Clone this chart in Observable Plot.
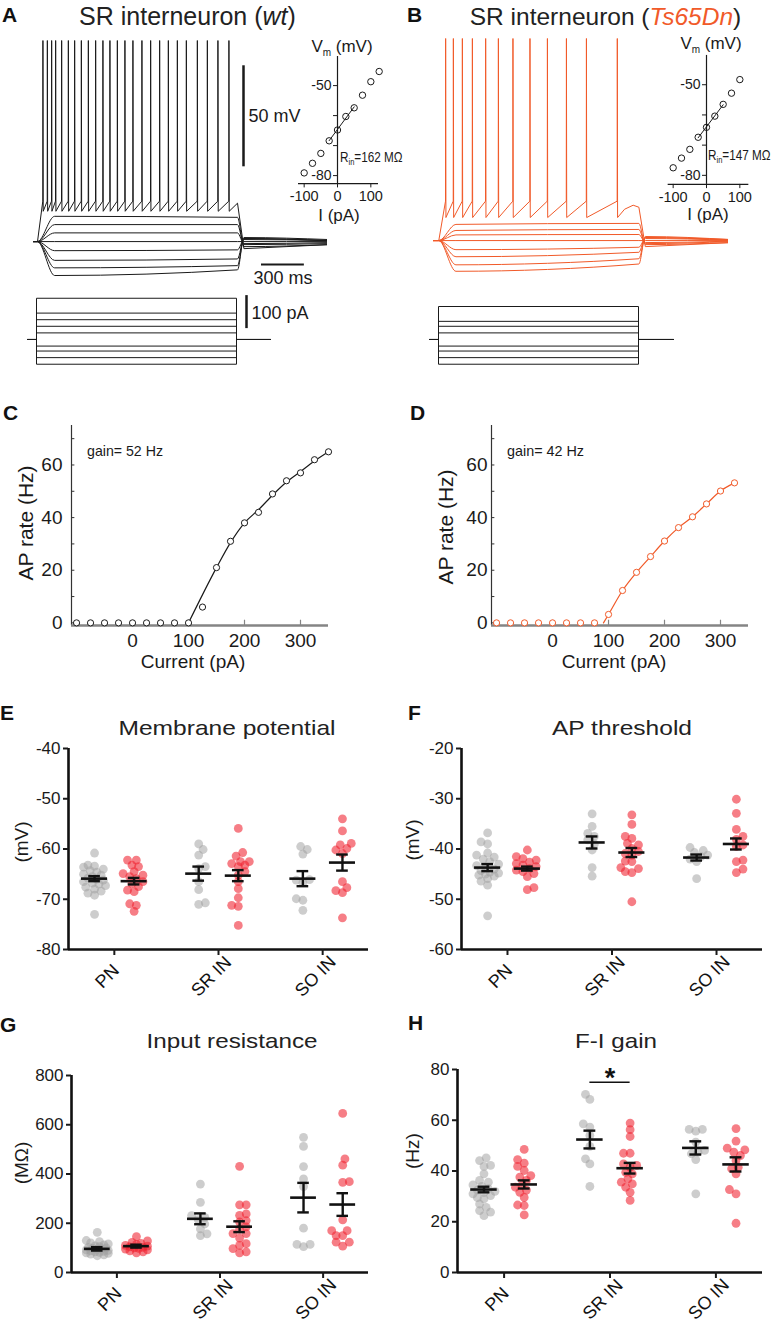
<!DOCTYPE html>
<html><head><meta charset="utf-8">
<script src="https://cdn.jsdelivr.net/npm/d3@7"></script>
<script src="https://cdn.jsdelivr.net/npm/@observablehq/plot@0.6"></script>
<style>
html,body{margin:0;padding:0;background:#fff;}
#fig{position:relative;width:775px;height:1331px;overflow:hidden;background:#fff;}
</style></head><body><div id="fig"></div>
<script>
// ---------------- DATA ----------------
// Panels A/B: voltage traces (mV) – key values per non-spiking trace
const restV = -65;
const traceKeyTimes = [-40, 0, 120, 1400, 1445, 2040]; // ms
const aEarly = [-52.5, -56.6, -60.7, -65, -69.5, -74.3, -78, -81.8];
const aEnd   = [-53, -56.6, -60.7, -65, -69.1, -73.6, -76.9, -79];
const aPost1 = [-67.5, -66.5, -66, -65, -64, -63.5, -63.5, -63];
const aPost2 = [-66.5, -66, -65.5, -65, -64.5, -64.5, -64.5, -64];
const aSpikeTimes = [37, 68, 98, 126, 168, 215, 259, 306, 355, 406, 457, 506, 558, 611, 667, 730, 791, 854, 915, 978, 1041, 1118, 1188, 1262, 1339];
const aSpikeLevels = [-45, 34.5, -50]; // threshold, peak, AHP
const aSpikeTail = [[1400, -46]];
const aSpikePost = [-68.5, -66.5];

const bEarly = [-57, -60, -62.2, -65, -69.5, -73, -77, -80.2];
const bEnd   = [-56.5, -59.5, -62, -65, -68.3, -70.8, -74, -76.6];
const bPost1 = [-67, -66.5, -66, -65, -64, -63.5, -63.5, -63];
const bPost2 = [-66, -65.5, -65.3, -65, -64.8, -64.8, -64.5, -64.5];
const bSpikeTimes = [47, 101, 164, 234, 327, 416, 518, 637, 759, 892, 1032, 1248];
const bSpikeLevels = [-45.5, 35, -53.6];
const bSpikeTail = [[1300, -49.5], [1360, -47.5], [1400, -48.5]];
const bSpikePost = [-68, -66];

// current steps (pA)
const aCurrents = [125, 80, 60, 40, 20, -20, -35, -55, -75];
const bCurrents = [100, 55, 40, 20, -20, -35, -55, -75];
const stepTimes = [0, 1400];

// I-V insets
const ivCurrentsA = [-100, -75, -50, -25, 0, 25, 50, 75, 100, 125];
const ivVoltA = [-79.1, -75.9, -72.6, -68.4, -64.8, -60.3, -57.4, -53.2, -48.7, -45.3];
const ivCurrentsB = [-100, -75, -50, -25, 0, 25, 50, 75, 100];
const ivVoltB = [-77.5, -74.3, -71.4, -67.4, -64.1, -60.4, -56.5, -52.8, -48.3];
const ivFitRange = [-25, 50];
const ivYTicks = [-50, -60, -70, -80];
const ivYLabels = ["-50", "-80"];
const ivXTicks = [-100, 0, 100];

// Panels C/D: F-I curves
const cCurrent = [-100, -75, -50, -25, 0, 25, 50, 75, 100, 125, 150, 175, 200, 225, 250, 275, 300, 325, 350];
const cRate = [0, 0, 0, 0, 0, 0, 0, 0, 0, 6, 21, 31, 38, 42, 49, 54, 57, 62, 65];
const cFitI = [100, 150, 175, 200, 225, 250, 275, 300, 325, 350];
const cFitR = [0, 21, 30.5, 38, 43, 48.5, 53.5, 57.5, 61.5, 65];
const dCurrent = [-100, -75, -50, -25, 0, 25, 50, 75, 100, 125, 150, 175, 200, 225, 250, 275, 300, 325];
const dRate = [0, 0, 0, 0, 0, 0, 0, 0, 3.2, 12.3, 19.2, 25.2, 31.1, 36.2, 40.3, 45.2, 50.1, 53.2];
const dFitI = [91, 100, 125, 150, 175, 200, 225, 250, 275, 300, 325];
const dFitR = [0, 3.2, 12.3, 19.2, 25.2, 31.1, 36.2, 40.3, 45.2, 50.1, 53.2];
const fiXTicks = [0, 100, 200, 300];
const fiYTicks = [0, 20, 40, 60];
const fiYMinor = [0, 10, 20, 30, 40, 50, 60, 70];

// Panels E-H: categories
const cats = ["PN", "SR IN", "SO IN"];
// E: membrane potential (mV)
const vmPNwt = [-60.8, -63.2, -63.4, -63.6, -64.0, -64.3, -64.6, -65.0, -65.2, -65.5, -65.8, -66.0, -66.2, -66.5, -66.8, -67.0, -67.3, -67.6, -68.0, -68.4, -68.8, -69.2, -73.0];
const vmPNts = [-62.2, -62.2, -63.2, -63.5, -64.5, -64.9, -65.2, -65.5, -65.9, -66.5, -66.9, -67.5, -68.2, -68.5, -70.9, -71.2, -72.4];
const vmSRwt = [-59.0, -60.1, -61.2, -63.5, -63.9, -66.5, -68.1, -70.7, -71.0];
const vmSRts = [-55.9, -60.7, -61.4, -62.5, -62.5, -62.9, -63.2, -63.5, -64.5, -65.2, -66.5, -67.9, -69.7, -71.2, -71.4, -75.2];
const vmSOwt = [-59.5, -60.1, -61.0, -66.1, -66.2, -66.7, -69.9, -70.2, -72.2];
const vmSOts = [-54.0, -56.4, -58.9, -59.2, -59.9, -60.2, -60.9, -66.5, -67.7, -68.3, -68.7, -73.7];
const vmMean = [-65.9, -66.4, -64.9, -65.3, -65.9, -62.7];
const vmSem = [0.5, 0.65, 1.4, 1.1, 1.5, 1.6];
// F: AP threshold (mV)
const thPNwt = [-36.8, -38.6, -39.0, -40.8, -41.2, -41.6, -42.0, -42.5, -43.0, -43.3, -43.6, -44.0, -44.3, -44.6, -44.8, -45.0, -45.2, -45.4, -45.9, -46.4, -47.2, -53.3];
const thPNts = [-40.2, -41.5, -41.9, -42.2, -42.6, -42.9, -43.2, -43.5, -43.9, -44.2, -44.5, -44.9, -45.5, -47.7, -48.1];
const thSRwt = [-33.0, -35.5, -36.9, -37.5, -38.2, -39.0, -40.2, -43.7, -45.4];
const thSRts = [-33.2, -35.1, -37.5, -37.9, -38.9, -39.2, -39.9, -40.5, -40.9, -41.2, -42.4, -42.5, -43.7, -43.9, -44.5, -44.7, -50.5];
const thSOwt = [-39.7, -40.3, -40.7, -41.2, -41.5, -42.0, -42.5, -45.9];
const thSOts = [-30.1, -32.9, -36.1, -37.5, -38.1, -39.2, -39.5, -42.2, -42.5, -44.0, -44.7];
const thMean = [-43.7, -43.9, -38.7, -40.7, -41.7, -39.0];
const thSem = [0.7, 0.4, 1.2, 0.9, 0.6, 1.1];
// G: input resistance (MOhm)
const rinPNwt = [163, 130, 125, 120, 116, 112, 108, 105, 102, 100, 98, 96, 94, 92, 90, 88, 86, 84, 82, 80, 78, 75, 72, 68];
const rinPNts = [146, 128, 122, 118, 114, 110, 107, 104, 102, 100, 98, 95, 92, 88, 84, 80];
const rinSRwt = [359, 285, 231, 224, 215, 197, 177, 157, 150];
const rinSRts = [431, 275, 275, 238, 232, 211, 205, 185, 175, 158, 158, 140, 117, 110, 97, 84, 80];
const rinSOwt = [549, 512, 430, 380, 349, 180, 114, 105, 114];
const rinSOts = [646, 461, 436, 369, 366, 214, 170, 170, 150, 150, 123, 123, 107];
const rinMean = [96, 107, 218, 186, 304, 276];
const rinSem = [7, 6, 22, 22, 60, 46];
// H: F-I gain (Hz)
const gPNwt = [45.2, 44.1, 42.2, 41.8, 38.9, 36.3, 35.6, 34.5, 33.9, 33.0, 32.5, 32.0, 31.5, 31.0, 30.3, 29.5, 29.0, 27.0, 25.7, 24.4, 23.8, 22.4];
const gPNts = [48.5, 44.5, 43.1, 41.8, 40.2, 38.2, 37.6, 36.3, 34.3, 33.6, 32.5, 31.6, 29.6, 26.6, 26.4, 22.7];
const gSRwt = [70.2, 68.2, 58.6, 57.3, 54.0, 49.7, 44.8, 42.8, 33.9];
const gSRts = [58.9, 56.3, 53.6, 47.0, 47.0, 42.8, 42.2, 41.5, 39.5, 38.9, 36.9, 35.6, 34.9, 33.6, 31.6, 28.4];
const gSOwt = [56.4, 55.7, 56.4, 51.4, 46.8, 47.4, 48.1, 44.5, 31.0];
const gSOts = [56.7, 51.8, 49.0, 48.3, 47.4, 46.1, 44.1, 41.5, 40.9, 38.9, 32.7, 31.0, 19.4];
const gMean = [32.7, 34.7, 52.4, 41.1, 49.1, 42.6];
const gSem = [1.1, 1.6, 3.5, 2.1, 2.6, 2.8];
const gSig = [{cat: 1, y: 75}];

// ---------------- STYLE ----------------
const SANS = '"Liberation Sans", Arial, Helvetica, sans-serif';
const NARROW = '"Liberation Sans Narrow", "Arial Narrow", "Liberation Sans", Arial, sans-serif';
const INK = "#1a1a1a";
const ORANGE = "#f15a29";
const GRAY = "#a0a0a0";
const RED = "#f0202e";
const GENO = 0.19;
const baseStyle = {background: "transparent", overflow: "visible", fontFamily: SANS, fontSize: "17px", color: INK};
const hyphen = d => String(d);

const fig = document.getElementById("fig");
function place(node, left, top) {
  node.style.position = "absolute";
  node.style.left = left + "px";
  node.style.top = top + "px";
  fig.appendChild(node);
}

// ---------------- TRACES ----------------
function subTraces(early, end, p1, p2) {
  const rows = [];
  early.forEach((e, k) => {
    const vals = [restV, restV, e, end[k], p1[k], p2[k]];
    traceKeyTimes.forEach((t, j) => rows.push({id: k, t, v: vals[j]}));
  });
  return rows;
}
function spikeTrace(spikes, lv, tail, post) {
  const [thr, peak, ahp] = lv;
  const rows = [{t: -40, v: restV}, {t: 0, v: restV}];
  spikes.forEach(s => rows.push({t: s, v: thr}, {t: s + 1, v: peak}, {t: s + 3, v: ahp}));
  tail.forEach(([t, v]) => rows.push({t, v}));
  rows.push({t: 1445, v: post[0]}, {t: 2040, v: post[1]});
  return rows;
}
function stepRows(currents, tStart, tEnd) {
  const rows = [];
  currents.forEach((I, k) => {
    [[tStart, 0], [stepTimes[0], 0], [stepTimes[0], I], [stepTimes[1], I], [stepTimes[1], 0], [tEnd, 0]]
      .forEach(([t, i]) => rows.push({id: k, t, i}));
  });
  return rows;
}

// Panel A voltage traces
place(Plot.plot({
  width: 294, height: 254, margin: 0,
  x: {domain: [-28, 2030], axis: null}, y: {domain: [-90.2, 35.5], axis: null},
  style: baseStyle,
  marks: [
    Plot.line(subTraces(aEarly, aEnd, aPost1, aPost2), {x: "t", y: "v", z: "id", curve: "monotone-x", stroke: INK, strokeWidth: 1, clip: true}),
    Plot.line(spikeTrace(aSpikeTimes, aSpikeLevels, aSpikeTail, aSpikePost), {x: "t", y: "v", stroke: INK, strokeWidth: 1, clip: true}),
    Plot.ruleX([1442], {y1: 22, y2: 22 - 50, stroke: INK, strokeWidth: 2.5}),
    Plot.text(["50 mV"], {x: 1477, y: -3, textAnchor: "start", fontSize: 18, fill: INK}),
    Plot.ruleY([-76.4], {x1: 1568, x2: 1568 + 300, stroke: INK, strokeWidth: 2}),
    Plot.text(["300 ms"], {x: 1718, y: -83, fontSize: 18, fill: INK})
  ]
}), 33, 38);

// Panel B voltage traces
place(Plot.plot({
  width: 295, height: 254, margin: 0,
  x: {domain: [-37, 2027], axis: null}, y: {domain: [-90.7, 35], axis: null},
  style: baseStyle,
  marks: [
    Plot.line(subTraces(bEarly, bEnd, bPost1, bPost2), {x: "t", y: "v", z: "id", curve: "monotone-x", stroke: ORANGE, strokeWidth: 1, clip: true}),
    Plot.line(spikeTrace(bSpikeTimes, bSpikeLevels, bSpikeTail, bSpikePost), {x: "t", y: "v", stroke: ORANGE, strokeWidth: 1, clip: true})
  ]
}), 433, 38);

// current steps A
place(Plot.plot({
  width: 243, height: 80, margin: 0,
  x: {domain: [-63, 1638], axis: null}, y: {domain: [-94, 148.5], axis: null},
  style: baseStyle,
  marks: [
    Plot.line(stepRows(aCurrents, -63, 1638), {x: "t", y: "i", z: "id", stroke: INK, strokeWidth: 1}),
    Plot.ruleX([1470], {y1: 133, y2: 133 - 100, stroke: INK, strokeWidth: 2.5}),
    Plot.text(["100 pA"], {x: 1505, y: 80, textAnchor: "start", fontSize: 18, fill: INK})
  ]
}), 27, 290);

// current steps B
place(Plot.plot({
  width: 244, height: 80, margin: 0,
  x: {domain: [-63, 1645], axis: null}, y: {domain: [-94, 148.5], axis: null},
  style: baseStyle,
  marks: [
    Plot.line(stepRows(bCurrents, -63, 1645), {x: "t", y: "i", z: "id", stroke: INK, strokeWidth: 1})
  ]
}), 429, 290);

// I-V insets
function ivPlot(I, V, left, xDomain, yDomain, axisV, axisI) {
  const rows = I.map((c, k) => ({I: c, V: V[k]}));
  const fit = rows.filter(d => d.I >= ivFitRange[0] && d.I <= ivFitRange[1]);
  place(Plot.plot({
    width: 115, height: 180, margin: 0,
    x: {domain: xDomain, axis: null}, y: {domain: yDomain, axis: null},
    style: baseStyle,
    marks: [
      Plot.ruleX([0], {y1: axisV[0], y2: axisV[1], stroke: INK, strokeWidth: 1.2}),
      Plot.ruleY([axisV[0]], {x1: axisI[0], x2: axisI[1], stroke: INK, strokeWidth: 1.2}),
      Plot.ruleY(ivYTicks, {x1: -12, x2: 0, stroke: INK, strokeWidth: 1}),
      Plot.ruleX(ivXTicks, {y1: axisV[0], y2: axisV[0] - 1.4, stroke: INK, strokeWidth: 1}),
      Plot.text(ivYLabels, {x: 0, y: d => +d, text: d => d, dx: -6, textAnchor: "end", fontSize: 14, fontFamily: NARROW, fill: INK}),
      Plot.text(ivXTicks, {x: d => d, y: axisV[0], text: hyphen, dy: 13, fontSize: 14.5, fontFamily: NARROW, fill: INK}),
      Plot.linearRegressionY(fit, {x: "I", y: "V", ci: 0, stroke: INK, strokeWidth: 1}),
      Plot.dot(rows, {x: "I", y: "V", r: 3.2, stroke: INK, fill: "none", strokeWidth: 1})
    ]
  }), left, 35);
}
ivPlot(ivCurrentsA, ivVoltA, 280, [-171, 174], [-93.3, -33.3], [-82.7, -40.3], [-117, 123]);
ivPlot(ivCurrentsB, ivVoltB, 650, [-168, 177], [-93.3, -33.7], [-83, -40.3], [-115, 127]);

// ---------------- F-I CURVES ----------------
function fiPlot(I, R, fitI, fitR, color, left, mL, pad) {
  const rows = I.map((c, k) => ({I: c, R: R[k]}));
  const fit = fitI.map((c, k) => ({I: c, R: fitR[k]}));
  const xD = [-109, 350];
  place(Plot.plot({
    width: mL + 257 + 20, height: 300,
    marginLeft: mL, marginRight: 20, marginTop: 45, marginBottom: 55,
    x: {domain: xD}, y: {domain: [-1, 75]},
    style: baseStyle,
    marks: [
      Plot.ruleX([xD[0]], {y1: -1, y2: 75, stroke: "#333", strokeWidth: 1.2}),
      Plot.ruleY(fiYMinor, {x1: xD[0], x2: xD[0] + 6, stroke: "#333", strokeWidth: 1}),
      Plot.ruleY([-1], {x1: xD[0], x2: xD[1], stroke: "#858585", strokeWidth: 2.3}),
      Plot.ruleX(fiXTicks, {y1: -1, y2: 1, stroke: "#858585", strokeWidth: 1.2}),
      Plot.axisY({ticks: fiYTicks, tickSize: 0, tickPadding: pad, fontSize: 19, tickFormat: hyphen, label: null}),
      Plot.axisX({ticks: fiXTicks, tickSize: 0, tickPadding: 8, fontSize: 19, tickFormat: hyphen, label: null}),
      Plot.line(fit, {x: "I", y: "R", curve: "monotone-x", stroke: color, strokeWidth: 1.2}),
      Plot.dot(rows, {x: "I", y: "R", r: 3.1, stroke: color, fill: "white", strokeWidth: 1})
    ]
  }), left, 380);
}
fiPlot(cCurrent, cRate, cFitI, cFitR, INK, 0, 71, 9);
fiPlot(dCurrent, dRate, dFitI, dFitR, ORANGE, 390, 101, 4);

// ---------------- SCATTER PANELS ----------------
function swarmOffsets(vals, pxY, minDist, step, maxOff) {
  const order = vals.map((v, i) => i).sort((a, b) => vals[a] - vals[b]);
  const placed = [];
  const out = new Array(vals.length).fill(0);
  order.forEach((i, n0) => {
    const y = vals[i] * pxY;
    const sgn = n0 % 2 ? 1 : -1;
    let chosen = null, best = 0, bestD = -1;
    for (let n = 0; n < 80; n++) {
      const o = n === 0 ? 0 : (n % 2 ? sgn : -sgn) * Math.ceil(n / 2) * step;
      if (Math.abs(o) > maxOff) break;
      const d = placed.reduce((m, p) => Math.min(m, Math.hypot(p.x - o, p.y - y)), Infinity);
      if (d >= minDist) { chosen = o; break; }
      if (d > bestD) { bestD = d; best = o; }
    }
    if (chosen === null) chosen = best;
    placed.push({x: chosen, y});
    out[i] = chosen;
  });
  return out;
}

function scatter({left, top, mL, mT, fw, fh, yDomain, yTicks, groups, means, sems, sig}) {
  const xD = [-0.44, 2.44];
  const pxX = fw / (xD[1] - xD[0]);
  const pxY = fh / (yDomain[1] - yDomain[0]);
  const centers = groups.map((g, gi) => Math.floor(gi / 2) + (gi % 2 ? GENO : -GENO));
  const wt = [], ts = [];
  groups.forEach((vals, gi) => {
    const offs = swarmOffsets(vals, pxY, 6.3, 2.2, 11);
    vals.forEach((v, i) => (gi % 2 ? ts : wt).push({x: centers[gi] + offs[i] / pxX, y: v}));
  });
  const summ = means.map((m, gi) => ({c: centers[gi], m, s: sems[gi]}));
  const width = mL + fw + 15;
  const height = mT + fh + 60;
  const marks = [
    Plot.dot(wt, {x: "x", y: "y", r: 4.4, fill: GRAY, fillOpacity: 0.52}),
    Plot.dot(ts, {x: "x", y: "y", r: 4.4, fill: RED, fillOpacity: 0.58}),
    Plot.ruleY(summ, {y: "m", x1: d => d.c - 0.125, x2: d => d.c + 0.125, stroke: "#111", strokeWidth: 2.6}),
    Plot.ruleX(summ, {x: "c", y1: d => d.m - d.s, y2: d => d.m + d.s, stroke: "#111", strokeWidth: 2.4}),
    Plot.ruleY(summ, {y: d => d.m - d.s, x1: d => d.c - 0.056, x2: d => d.c + 0.056, stroke: "#111", strokeWidth: 2.4}),
    Plot.ruleY(summ, {y: d => d.m + d.s, x1: d => d.c - 0.056, x2: d => d.c + 0.056, stroke: "#111", strokeWidth: 2.4}),
    Plot.ruleX([xD[0]], {stroke: "#111", strokeWidth: 2.6}),
    Plot.ruleY([yDomain[0]], {stroke: "#111", strokeWidth: 2.6}),
    Plot.axisY({ticks: yTicks, tickSize: 5, tickPadding: 3, fontSize: 17, strokeWidth: 2, tickFormat: hyphen, label: null}),
    Plot.axisX({ticks: [0, 1, 2], tickSize: 6, tickFormat: () => "", strokeWidth: 2, label: null}),
    Plot.text(cats, {x: (d, i) => i, frameAnchor: "bottom", dy: 31, dx: -3, rotate: -45, fontSize: 18, fill: "#111"})
  ];
  if (sig) {
    marks.push(
      Plot.ruleY(sig, {y: "y", x1: d => d.cat - GENO, x2: d => d.cat + GENO, stroke: "#111", strokeWidth: 1.6}),
      Plot.text(sig, {x: "cat", y: "y", text: () => "*", dy: -3.5, fontSize: 27, fontWeight: "bold", fill: "#111"})
    );
  }
  place(Plot.plot({
    width, height,
    marginLeft: mL, marginRight: width - mL - fw, marginTop: mT, marginBottom: height - mT - fh,
    x: {domain: xD}, y: {domain: yDomain},
    style: baseStyle,
    marks
  }), left, top);
}

scatter({left: 0, top: 700, mL: 68, mT: 48, fw: 300, fh: 201, yDomain: [-80, -40], yTicks: [-80, -70, -60, -50, -40],
  groups: [vmPNwt, vmPNts, vmSRwt, vmSRts, vmSOwt, vmSOts], means: vmMean, sems: vmSem});
scatter({left: 390, top: 700, mL: 71, mT: 48, fw: 301, fh: 201, yDomain: [-60, -20], yTicks: [-60, -50, -40, -30, -20],
  groups: [thPNwt, thPNts, thSRwt, thSRts, thSOwt, thSOts], means: thMean, sems: thSem});
scatter({left: 0, top: 1020, mL: 71, mT: 55, fw: 297, fh: 197, yDomain: [0, 800], yTicks: [0, 200, 400, 600, 800],
  groups: [rinPNwt, rinPNts, rinSRwt, rinSRts, rinSOwt, rinSOts], means: rinMean, sems: rinSem});
scatter({left: 390, top: 1020, mL: 67, mT: 49, fw: 305, fh: 203, yDomain: [0, 80], yTicks: [0, 20, 40, 60, 80],
  groups: [gPNwt, gPNts, gSRwt, gSRts, gSOwt, gSOts], means: gMean, sems: gSem, sig: gSig});

// ---------------- TEXT OVERLAY ----------------
const ov = d3.create("svg").attr("width", 775).attr("height", 1331)
  .style("position", "absolute").style("left", "0px").style("top", "0px")
  .style("overflow", "visible").style("pointer-events", "none");
function T(x, y, s, o = {}) {
  const t = ov.append("text").attr("x", x).attr("y", y)
    .attr("font-family", o.family || SANS).attr("font-size", o.size || 17)
    .attr("text-anchor", o.anchor || "start").attr("fill", o.fill || INK);
  if (o.weight) t.attr("font-weight", o.weight);
  if (o.len) t.attr("textLength", o.len).attr("lengthAdjust", "spacingAndGlyphs");
  if (o.rotate) t.attr("transform", `rotate(${o.rotate},${x},${y})`).attr("dominant-baseline", "central");
  if (s != null) t.text(s);
  return t;
}
// panel letters
[["A", 2, 22], ["B", 407, 22], ["C", 3, 420], ["D", 410, 420], ["E", 0, 720], ["F", 408, 720], ["G", 0, 1032], ["H", 408, 1030]]
  .forEach(([s, x, y]) => T(x, y, s, {size: 21, weight: "bold", fill: "#111"}));
// titles A, B
const tA = T(187.5, 25, null, {size: 25, anchor: "middle", fill: "#222"});
tA.append("tspan").text("SR interneuron (");
tA.append("tspan").attr("font-style", "italic").text("wt");
tA.append("tspan").text(")");
const tB = T(605.5, 25, null, {size: 24.5, anchor: "middle", fill: "#222"});
tB.append("tspan").text("SR interneuron (");
tB.append("tspan").attr("font-style", "italic").attr("fill", ORANGE).text("Ts65Dn");
tB.append("tspan").text(")");
// I-V inset labels
function vmLabel(cx, y) {
  const t = T(cx, y, null, {size: 17, anchor: "middle"});
  t.append("tspan").text("V");
  t.append("tspan").attr("font-size", 10).attr("dy", 4).text("m");
  t.append("tspan").attr("dy", -4).text(" (mV)");
}
vmLabel(342, 52); vmLabel(711, 49);
T(339, 221, "I (pA)", {size: 17, anchor: "middle"});
T(708, 220, "I (pA)", {size: 17, anchor: "middle"});
function rinLabel(x, y, val) {
  const t = T(x, y, null, {size: 14, family: NARROW});
  t.append("tspan").text("R");
  t.append("tspan").attr("font-size", 9).attr("dy", 3).text("in");
  t.append("tspan").attr("dy", -3).text(`=${val} MΩ`);
  // squeeze to the narrow width seen in the figure
  t.attr("transform", `translate(${x},0) scale(0.84,1) translate(${-x},0)`);
}
rinLabel(340, 162, 162); rinLabel(708, 160, 147);
// F-I labels
T(87, 456, "gain= 52 Hz", {size: 15, family: NARROW, len: 76});
T(507, 456, "gain= 42 Hz", {size: 15, family: NARROW, len: 77});
T(25, 523, "AP rate (Hz)", {size: 21, anchor: "middle", rotate: -90});
T(445, 527, "AP rate (Hz)", {size: 21, anchor: "middle", rotate: -90});
T(193, 668, "Current (pA)", {size: 19, anchor: "middle"});
T(614, 668, "Current (pA)", {size: 19, anchor: "middle"});
// scatter titles
T(227, 735, "Membrane potential", {size: 21, anchor: "middle", len: 217, fill: "#222"});
T(622, 735, "AP threshold", {size: 21, anchor: "middle", len: 140, fill: "#222"});
T(232, 1048, "Input resistance", {size: 21, anchor: "middle", len: 171, fill: "#222"});
T(616, 1048, "F-I gain", {size: 21, anchor: "middle", len: 82, fill: "#222"});
T(21, 842, "(mV)", {size: 19, anchor: "middle", rotate: -90});
T(412, 840, "(mV)", {size: 19, anchor: "middle", rotate: -90});
T(21, 1163, "(MΩ)", {size: 19, anchor: "middle", rotate: -90});
T(412, 1151, "(Hz)", {size: 19, anchor: "middle", rotate: -90});
fig.appendChild(ov.node());
</script></body></html>
